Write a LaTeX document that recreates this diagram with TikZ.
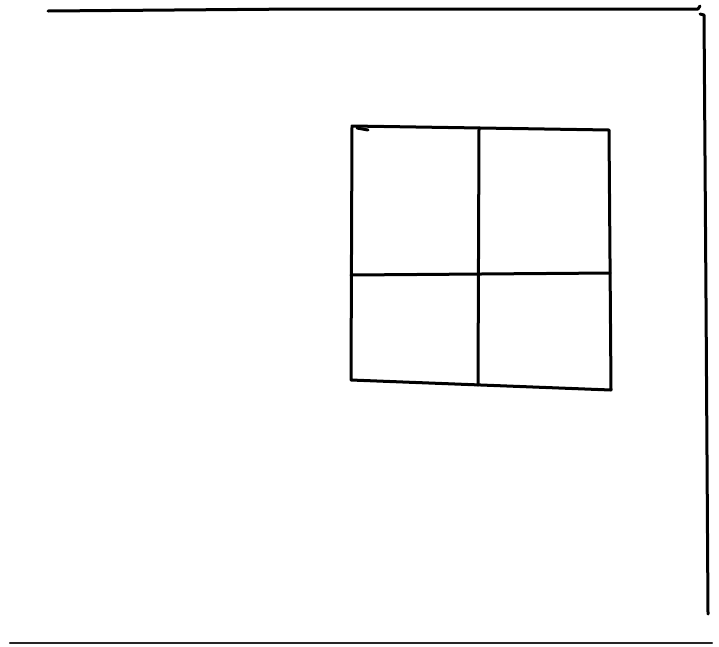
\documentclass[tikz,border=0pt]{standalone}
\begin{document}
\begin{tikzpicture}[x=1pt, y=-1pt, line cap=round, line join=round,
  pen/.style={line width=3pt},
  thinpen/.style={line width=2.4pt}]
\useasboundingbox (0,0) rectangle (719,646);
% wall outline
\draw[pen] (48,11) -- (300,9) -- (698,9) -- (700,6);
\draw[pen] (700,14) -- (704,15) -- (706,300) -- (708,614);
\draw[thinpen, black!85] (10,643) -- (712,643);
% window frame
\coordinate (TL) at (352,126);
\coordinate (TR) at (609,130);
\coordinate (BL) at (351,380);
\coordinate (BR) at (611,390);
\draw[pen] (TL) -- (TR) -- (BR) -- (BL) -- cycle;
\draw[pen] (357,128) -- (368,130);
% mullions
\draw[pen] (479,128) -- (478,385);
\draw[pen] (351,275) -- (610,273);
\end{tikzpicture}
\end{document}
